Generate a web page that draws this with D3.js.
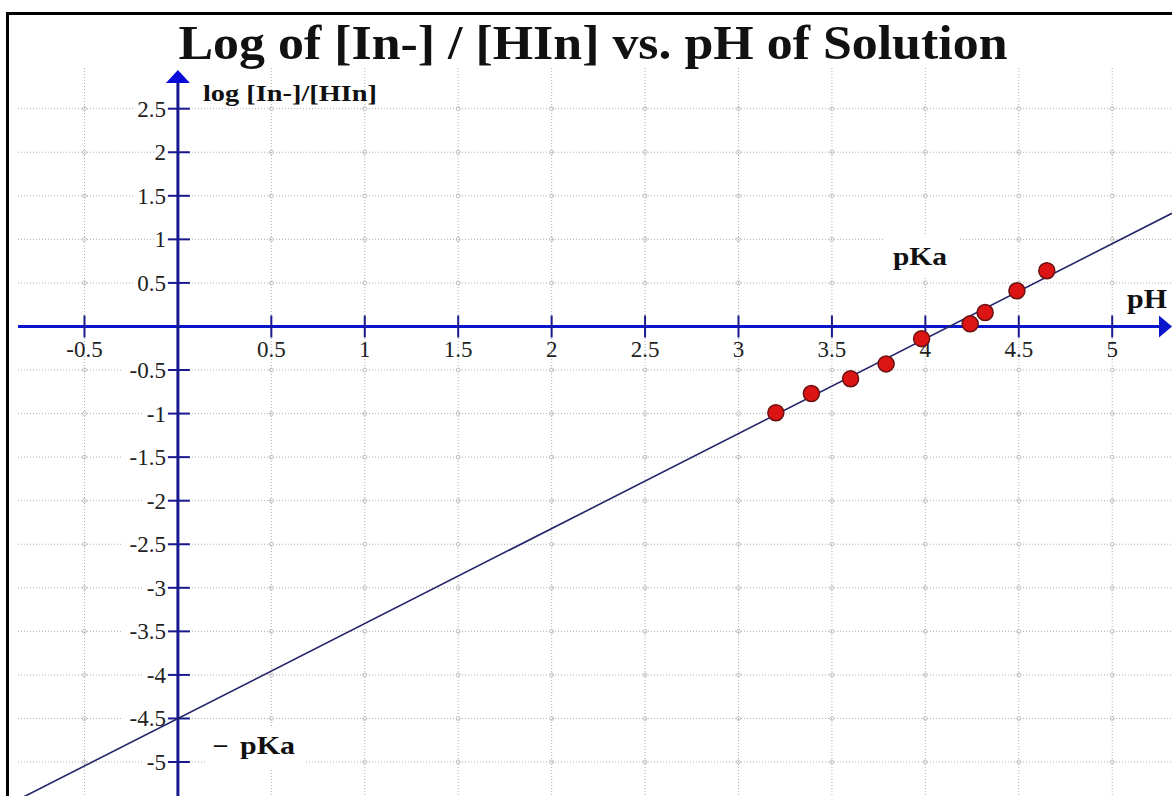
<!DOCTYPE html>
<html>
<head>
<meta charset="utf-8">
<script src="https://cdn.jsdelivr.net/npm/d3@7"></script>
<style>
  body { margin: 0; background: #fff; }
  svg { display: block; font-family: "Liberation Serif", "Times New Roman", serif; }
  .grid line { stroke: #b0b0b0; stroke-width: 1; stroke-dasharray: 1,2; }
  .grid circle { fill: none; stroke: #c4c4c4; stroke-width: 1; }
  .tick-label { font-size: 23px; fill: #222; }
  .bold-label { font-weight: bold; fill: #111; }
</style>
</head>
<body>
<div id="chart"></div>
<script>
// measured points: pH vs log([In-]/[HIn])
const phValues  = [3.20, 3.39, 3.60, 3.79, 3.98, 4.24, 4.32, 4.49, 4.65];
const logRatios = [-0.99, -0.77, -0.60, -0.43, -0.14, 0.03, 0.16, 0.41, 0.64];

// best fit line: log ratio = slope * pH + intercept
const fitSlope = 1.09;
const fitIntercept = -4.5;

const xTicks = [-0.5, 0.5, 1, 1.5, 2, 2.5, 3, 3.5, 4, 4.5, 5];
const xTickLabels = ["-0.5", "0.5", "1", "1.5", "2", "2.5", "3", "3.5", "4", "4.5", "5"];
const yTicks = [2.5, 2, 1.5, 1, 0.5, -0.5, -1, -1.5, -2, -2.5, -3, -3.5, -4, -4.5, -5];
const yTickLabels = ["2.5", "2", "1.5", "1", "0.5", "-0.5", "-1", "-1.5", "-2", "-2.5", "-3", "-3.5", "-4", "-4.5", "-5"];

const width = 1172, height = 796;

class GraphPaperPlot {
  constructor(container_id) {
    this.content = d3.select(container_id);
    this.width = width;
    this.height = height;
    this.x = d3.scaleLinear().domain([-0.92, 5.32]).range([6, 1172]);
    this.y = d3.scaleLinear().domain([3.61, -5.39]).range([12, 796]);
  }
  createContainer() {
    this.container = this.content.append("svg")
        .attr("width", this.width).attr("height", this.height)
        .attr("viewBox", `0 0 ${this.width} ${this.height}`);
    this.container.append("rect").attr("width", this.width).attr("height", this.height).attr("fill", "#fff");
    this.container.append("defs").append("clipPath").attr("id", "plotclip")
      .append("rect").attr("x", 8).attr("y", 14).attr("width", this.width - 8).attr("height", this.height - 14);
  }
  drawGrid() {
    const x = this.x, y = this.y;
    const g = this.container.append("g").attr("class", "grid");
    g.selectAll("line.v").data(xTicks).join("line").attr("class", "v")
      .attr("x1", d => x(d)).attr("x2", d => x(d)).attr("y1", 68).attr("y2", this.height);
    g.selectAll("line.h").data(yTicks).join("line").attr("class", "h")
      .attr("x1", 18).attr("x2", this.width).attr("y1", d => y(d)).attr("y2", d => y(d));
    // small markers where the grid lines cross
    const crossings = d3.cross(xTicks, yTicks);
    g.selectAll("circle").data(crossings).join("circle")
      .attr("cx", d => x(d[0])).attr("cy", d => y(d[1])).attr("r", 2);
  }
  drawAxes() {
    const x = this.x, y = this.y;
    const axisBlue = "#0a16cc", axisNavy = "#18188f";
    const g = this.container.append("g");

    // y tick labels sit on white boxes that cut the grid lines
    const yl = g.append("g");
    yl.selectAll("rect").data(yTicks).join("rect")
      .attr("x", d => x(0) - 12 - (String(d).length * 11)).attr("y", d => y(d) - 11)
      .attr("width", d => String(d).length * 11 + 2).attr("height", 22).attr("fill", "#fff");
    yl.selectAll("text").data(yTicks).join("text").attr("class", "tick-label")
      .attr("x", x(0) - 12).attr("y", d => y(d) + 8).attr("text-anchor", "end")
      .text((d, i) => yTickLabels[i]);

    // x axis
    g.append("line").attr("x1", 18).attr("x2", 1162).attr("y1", y(0)).attr("y2", y(0))
      .attr("stroke", axisBlue).attr("stroke-width", 3);
    g.append("path").attr("d", `M1172,${y(0)} L1159,${y(0) - 11} L1159,${y(0) + 11} Z`).attr("fill", axisBlue);
    // y axis
    g.append("line").attr("x1", x(0)).attr("x2", x(0)).attr("y1", 80).attr("y2", this.height)
      .attr("stroke", axisNavy).attr("stroke-width", 3);
    g.append("path").attr("d", `M${x(0)},70 L${x(0) - 12},83 L${x(0) + 12},83 Z`).attr("fill", "#0a0ad8");

    g.selectAll("line.xt").data(xTicks).join("line").attr("class", "xt")
      .attr("x1", d => x(d)).attr("x2", d => x(d)).attr("y1", y(0) - 11).attr("y2", y(0) + 11)
      .attr("stroke", axisNavy).attr("stroke-width", 2);
    g.selectAll("line.yt").data(yTicks).join("line").attr("class", "yt")
      .attr("x1", x(0) - 10).attr("x2", x(0) + 12).attr("y1", d => y(d)).attr("y2", d => y(d))
      .attr("stroke", axisNavy).attr("stroke-width", 2);

    g.selectAll("text.xl").data(xTicks).join("text").attr("class", "tick-label xl")
      .attr("x", d => x(d)).attr("y", y(0) + 31).attr("text-anchor", "middle")
      .text((d, i) => xTickLabels[i]);
  }
  drawLabels() {
    const svg = this.container;
    // boxes behind the pKa notes
    svg.append("rect").attr("x", 885).attr("y", 236).attr("width", 75).attr("height", 40).attr("fill", "#fff");
    svg.append("rect").attr("x", 205).attr("y", 728).attr("width", 100).attr("height", 42).attr("fill", "#fff");

    svg.append("text").attr("class", "bold-label").attr("x", 593).attr("y", 59)
      .attr("text-anchor", "middle").attr("font-size", 49)
      .attr("textLength", 829).attr("lengthAdjust", "spacingAndGlyphs")
      .text("Log of [In-] / [HIn] vs. pH of Solution");
    svg.append("text").attr("class", "bold-label").attr("x", 203).attr("y", 101)
      .attr("font-size", 24).attr("textLength", 174).attr("lengthAdjust", "spacingAndGlyphs")
      .text("log [In-]/[HIn]");
    svg.append("text").attr("class", "bold-label").attr("x", 1127).attr("y", 308)
      .attr("font-size", 27).attr("textLength", 40).attr("lengthAdjust", "spacingAndGlyphs")
      .text("pH");
    svg.append("text").attr("class", "bold-label").attr("x", 893).attr("y", 265)
      .attr("font-size", 26).attr("textLength", 54).attr("lengthAdjust", "spacingAndGlyphs")
      .text("pKa");
    svg.append("text").attr("class", "bold-label").attr("x", 214).attr("y", 752)
      .attr("font-size", 26).text("–");
    svg.append("text").attr("class", "bold-label").attr("x", 240).attr("y", 754)
      .attr("font-size", 26).attr("textLength", 55).attr("lengthAdjust", "spacingAndGlyphs")
      .text("pKa");
  }
  drawData() {
    const x = this.x, y = this.y;
    const [x0, x1] = x.domain();
    const fit = [x0, x1].map(p => [p, fitSlope * p + fitIntercept]);
    const line = d3.line().x(d => x(d[0])).y(d => y(d[1]));
    this.container.append("path").datum(fit).attr("d", line)
      .attr("clip-path", "url(#plotclip)")
      .attr("fill", "none").attr("stroke", "#23236a").attr("stroke-width", 1.6);

    this.container.append("g").selectAll("circle").data(phValues).join("circle")
      .attr("cx", d => x(d)).attr("cy", (d, i) => y(logRatios[i])).attr("r", 8)
      .attr("fill", "#dc1414").attr("stroke", "#6a1010").attr("stroke-width", 1.5);
  }
  drawFrame() {
    this.container.append("path").attr("d", `M7.5,${this.height} L7.5,13.5 L${this.width},13.5`)
      .attr("fill", "none").attr("stroke", "#000").attr("stroke-width", 3);
  }
  generatePlot() {
    this.createContainer();
    this.drawGrid();
    this.drawAxes();
    this.drawLabels();
    this.drawData();
    this.drawFrame();
  }
}

new GraphPaperPlot("#chart").generatePlot();
</script>
</body>
</html>
